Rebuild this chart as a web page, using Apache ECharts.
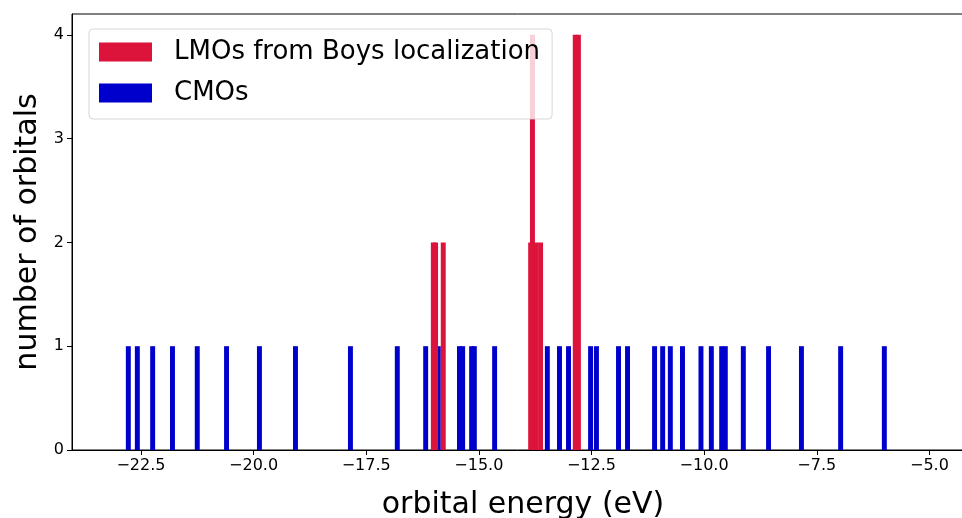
<!DOCTYPE html>
<html lang="en">

<head>
    <meta charset="UTF-8">
    <title>orbital energies</title>
    <script src="https://cdn.jsdelivr.net/npm/echarts@6/dist/echarts.min.js"></script>
    <style>
        body { margin: 0; background: #fff; }
    </style>
</head>

<body>
    <div id="main" style="width: 962px; height: 518px;"></div>
    <script>
        // bar centres (eV) and counts
        var lmoEnergy = [-16.01, -15.96, -15.79, -13.85, -13.81, -13.74, -13.63, -12.86, -12.79]
        var lmoCount = [2, 2, 2, 2, 4, 2, 2, 4, 4]

        var cmoEnergy = [-22.78, -22.58, -22.24, -21.80, -21.25, -20.60, -19.87, -19.07, -17.85,
            -16.81, -16.18, -15.90, -15.43, -15.36, -15.16, -15.10, -14.65, -13.48, -13.21, -13.01,
            -12.52, -12.39, -11.90, -11.70, -11.10, -10.92, -10.75, -10.48, -10.07, -9.84, -9.61,
            -9.53, -9.13, -8.57, -7.84, -6.97, -6.00]
        var cmoCount = cmoEnergy.map(function() { return 1 })

        var xTicks = [-22.5, -20, -17.5, -15, -12.5, -10, -7.5, -5]
        var yTicks = [0, 1, 2, 3, 4]

        var binWidth = 0.11
        var font = 'DejaVu Sans'

        function pairs(xs, ys) {
            return xs.map(function(x, i) { return [x, ys[i]] })
        }

        // histogram bar: spans binWidth around its centre
        function renderBar(params, api) {
            var x = api.value(0)
            var p0 = api.coord([x - binWidth / 2, api.value(1)])
            var p1 = api.coord([x + binWidth / 2, 0])
            return {
                type: 'rect',
                shape: { x: p0[0], y: p0[1], width: p1[0] - p0[0], height: p1[1] - p0[1] },
                style: { fill: api.visual('color') }
            }
        }

        var mCharts = echarts.init(document.getElementById('main'))
        var option = {
            animation: false,
            grid: {
                left: 72,
                top: 14,
                width: 902, // right spine falls just outside the canvas
                height: 436,
                outerBoundsMode: 'none',
                show: true,
                borderColor: '#000',
                borderWidth: 1
            },
            legend: {
                left: 89,
                top: 29,
                orient: 'vertical',
                icon: 'rect',
                itemWidth: 53,
                itemHeight: 19,
                itemGap: 11,
                padding: [8, 12, 11, 10],
                backgroundColor: 'rgba(255,255,255,0.8)',
                borderColor: 'rgba(204,204,204,0.8)',
                borderWidth: 1,
                borderRadius: 4,
                textStyle: {
                    fontFamily: font,
                    fontSize: 26,
                    color: '#000',
                    lineHeight: 30,
                    padding: [0, 0, 0, 17]
                },
                data: ['LMOs from Boys localization', 'CMOs']
            },
            xAxis: {
                type: 'value',
                min: -24.03,
                max: -4.01,
                name: 'orbital energy (eV)',
                nameLocation: 'middle',
                nameGap: 40,
                nameTextStyle: { fontFamily: font, fontSize: 30, color: '#000' },
                axisLine: { lineStyle: { color: '#000', width: 1 } },
                axisTick: {
                    customValues: xTicks,
                    length: 5,
                    lineStyle: { color: '#000' }
                },
                axisLabel: {
                    customValues: xTicks,
                    margin: 8,
                    fontFamily: font,
                    fontSize: 16,
                    color: '#000',
                    formatter: function(v) { return v.toFixed(1).replace('-', '\u2212') }
                },
                splitLine: { show: false }
            },
            yAxis: {
                type: 'value',
                min: 0,
                max: 4.2,
                name: 'number of orbitals',
                nameLocation: 'middle',
                nameGap: 28,
                nameTextStyle: { fontFamily: font, fontSize: 30, color: '#000' },
                axisLine: { show: true, lineStyle: { color: '#000', width: 1 } },
                axisTick: {
                    show: true,
                    customValues: yTicks,
                    length: 5,
                    lineStyle: { color: '#000' }
                },
                axisLabel: {
                    customValues: yTicks,
                    margin: 8,
                    fontFamily: font,
                    fontSize: 16,
                    color: '#000'
                },
                splitLine: { show: false }
            },
            series: [{
                    name: 'CMOs',
                    type: 'custom',
                    renderItem: renderBar,
                    itemStyle: { color: '#0000CD' },
                    encode: { x: 0, y: 1 },
                    data: pairs(cmoEnergy, cmoCount),
                    z: 2
                },
                {
                    name: 'LMOs from Boys localization',
                    type: 'custom',
                    renderItem: renderBar,
                    itemStyle: { color: '#DC143C' },
                    encode: { x: 0, y: 1 },
                    data: pairs(lmoEnergy, lmoCount),
                    z: 3
                }
            ]
        }
        mCharts.setOption(option)
    </script>
</body>

</html>
